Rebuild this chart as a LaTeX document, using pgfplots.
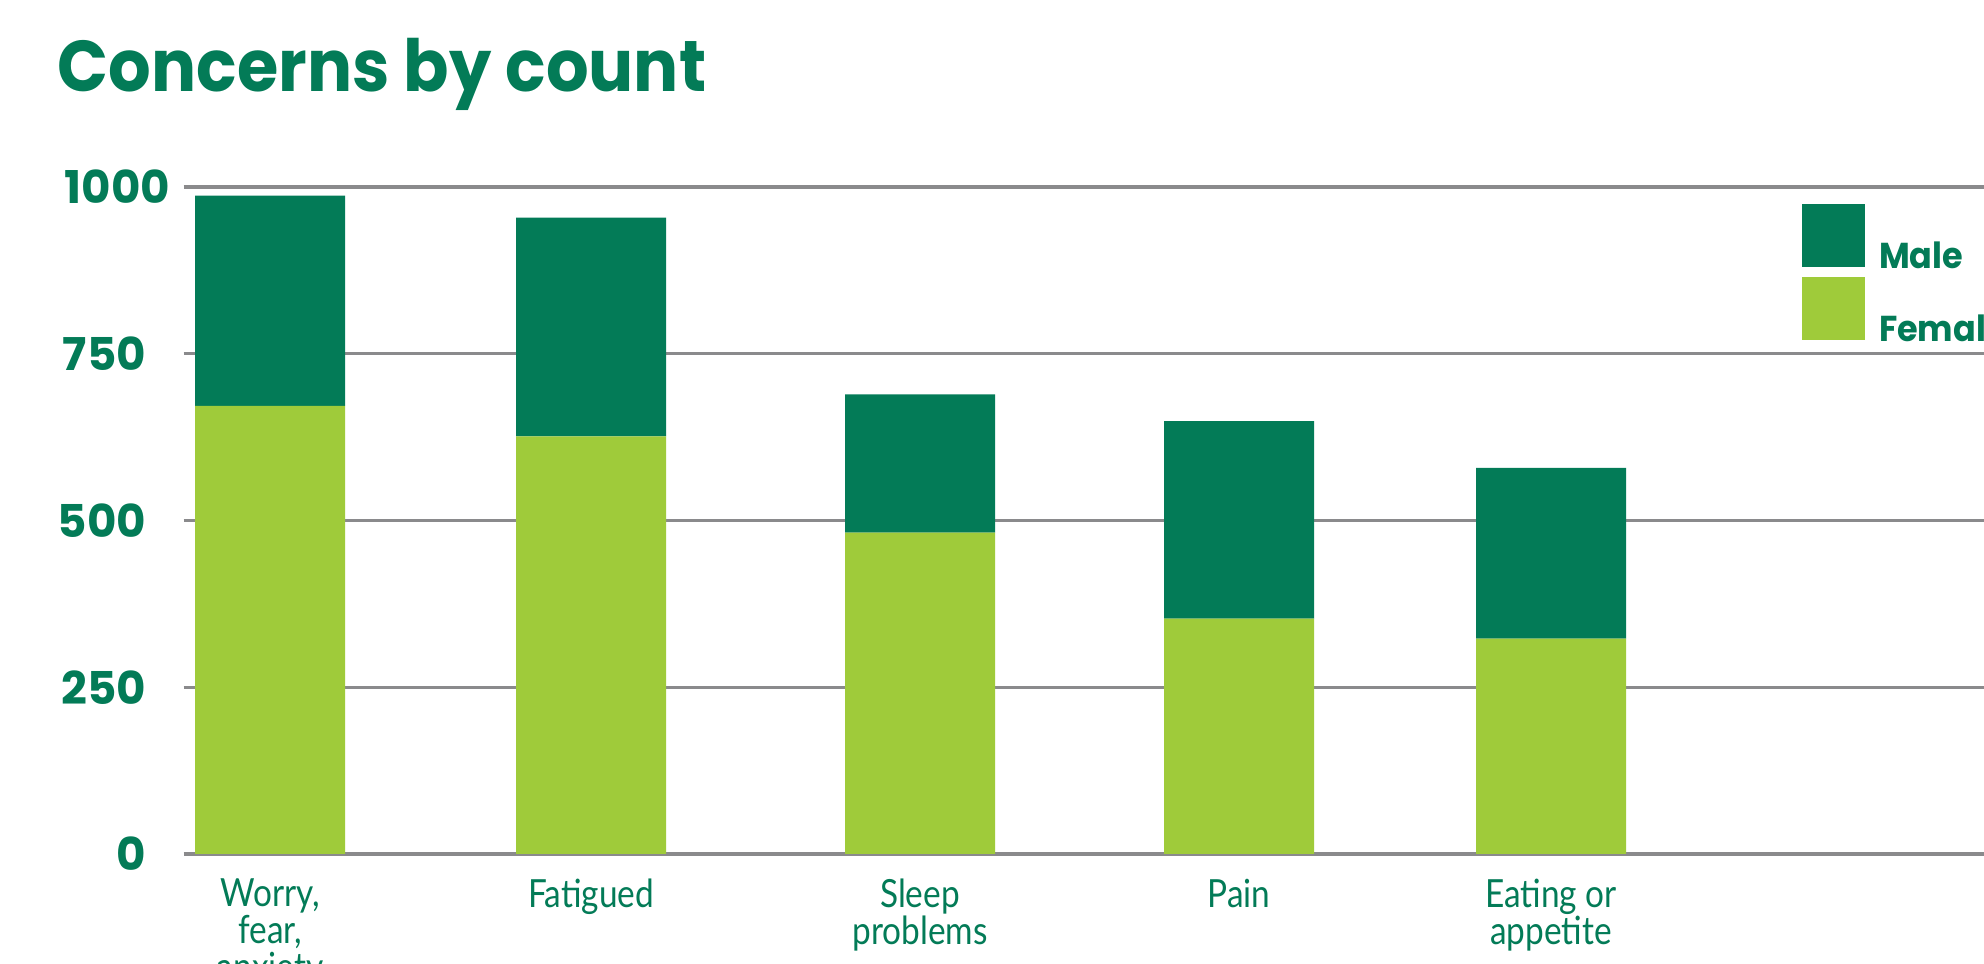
\documentclass[border=0pt]{standalone}
\usepackage{pgfplots}
\pgfplotsset{compat=1.18}
\usepackage{fontspec}
\setmainfont{Poppins}
\newfontfamily\titlefont[FakeStretch=0.93]{Poppins}
\newfontfamily\labelfont[FakeStretch=0.86]{Lato}
\definecolor{dgreen}{RGB}{3,123,87}
\definecolor{lgreen}{RGB}{159,203,58}
\definecolor{gridgray}{RGB}{138,138,140}
\begin{document}
\begin{tikzpicture}
\useasboundingbox (0,0) rectangle (496bp,241bp);
\clip (0,0) rectangle (496bp,241bp);
\node[anchor=base west, inner sep=0pt, text=dgreen, font=\titlefont\bfseries\fontsize{18bp}{20bp}\selectfont] at (14.25bp,218bp) {Concerns by count};
\begin{axis}[
  at={(45.9bp,27.5bp)}, anchor=south west,
  width=479.1bp, height=166.75bp, scale only axis,
  xmin=183.5, xmax=2100, ymin=0, ymax=1000,
  ybar stacked, bar width=150,
  axis line style={draw=none},
  major tick length=0pt,
  ytick={0,250,500,750,1000},
  yticklabels={0,250,500,750,{1000\kern-6bp}},
  ymajorgrids, grid style={gridgray, line width=0.8bp},
  xtick={270,591,920,1239,1551},
  xticklabels={{Worry,\\fear,\\anxiety},Fatigued,{Sleep\\problems},Pain,{Eating or\\appetite}},
  x tick label style={anchor=north, inner sep=0pt, yshift=-6bp, align=center, text=dgreen, font=\labelfont\fontsize{9.7bp}{9.2bp}\selectfont},
  y tick label style={anchor=east, inner sep=0pt, xshift=-9.2bp, text=dgreen, font=\bfseries\fontsize{11.3bp}{12bp}\selectfont},
  reverse legend,
  legend image code/.code={\fill[#1] (0bp,-2.2bp) rectangle (15.75bp,13.55bp);},
  legend style={at={(axis description cs:0.8445,0.9745)}, anchor=north west, draw=none, fill=none, inner sep=0pt, outer sep=0pt, row sep=0.6bp, column sep=3.5bp, nodes={inner sep=0pt, text=dgreen, font=\titlefont\bfseries\fontsize{9bp}{10bp}\selectfont}},
  legend cell align=left,
]
\addplot[fill=lgreen, draw=none] coordinates {(270,672) (591,626) (920,482) (1239,353) (1551,323)};
\addplot[fill=dgreen, draw=none] coordinates {(270,315) (591,328) (920,207) (1239,296) (1551,256)};
\legend{Female, Male}
\end{axis}
\end{tikzpicture}
\end{document}
